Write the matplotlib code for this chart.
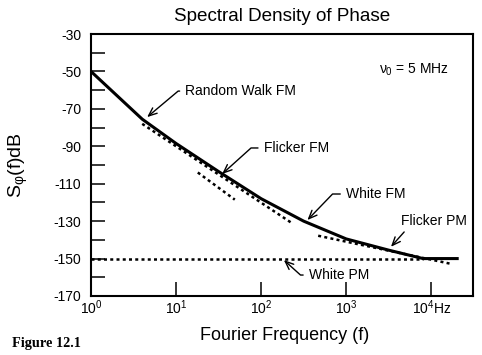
import numpy as np
import matplotlib
matplotlib.use("Agg")
import matplotlib.pyplot as plt

plt.rcParams['font.family'] = ['Liberation Sans', 'DejaVu Sans']
plt.rcParams['mathtext.fontset'] = 'custom'
plt.rcParams['mathtext.rm'] = 'Liberation Sans'
plt.rcParams['mathtext.it'] = 'Liberation Sans'
plt.rcParams['mathtext.bf'] = 'Liberation Sans:bold'
plt.rcParams['axes.unicode_minus'] = False

# total phase noise (solid curve)
solid_freq = [1, 4, 10, 31.6, 100, 316, 1000, 3160, 8000, 21000]
solid_db = [-50, -75.5, -88.5, -103.5, -118, -130, -139.5, -145.5, -150, -150]

# dotted asymptote pieces
flicker_fm_freq = [4, 229]
flicker_fm_db = [-78, -131]
white_fm_freq = [18, 49]
white_fm_db = [-104, -118.5]
flicker_pm_freq = [468, 17800]
flicker_pm_db = [-137.8, -153]
white_pm_freq = [1, 8000]
white_pm_db = [-150, -150]

x_ticks = [1, 10, 100, 1000, 10000]
x_labels = ["10$^0$", "10$^1$", "10$^2$", "10$^3$", "10$^4$Hz"]
y_ticks = [-30, -50, -70, -90, -110, -130, -150, -170]

fig = plt.figure(figsize=(4.82, 3.55), dpi=100)
ax = fig.add_axes([0.1888, 0.1662, 0.7925, 0.738])

ax.plot(solid_freq, solid_db, 'k', lw=2.2, solid_capstyle='butt')
dots = dict(color='k', lw=1.8, linestyle=(0, (1.2, 1.3)))
ax.plot(flicker_fm_freq, flicker_fm_db, **dots)
ax.plot(white_fm_freq, white_fm_db, **dots)
ax.plot(flicker_pm_freq, flicker_pm_db, **dots)
ax.plot(white_pm_freq, white_pm_db, **dots)

ax.set_xscale('log')
ax.set_xlim(1, 10**4.49)
ax.set_ylim(-170, -30)
ax.set_xticks(x_ticks)
ax.set_xticklabels(x_labels)
ax.xaxis.set_minor_locator(matplotlib.ticker.NullLocator())
ax.set_yticks(y_ticks)
ax.set_yticks(np.arange(-160, -30, 20), minor=True)
ax.tick_params(which='both', direction='in', length=10, width=1.1, labelsize=10)
ax.tick_params(axis='y', pad=7)
ax.tick_params(axis='x', pad=2)
for s in ax.spines.values():
    s.set_linewidth(1.5)

ax.set_xlabel("Fourier Frequency (f)", fontsize=13)
ax.xaxis.set_label_coords(0.507, -0.118)
ax.set_ylabel(r"S$_{\varphi}$(f)dB", fontsize=14)
ax.yaxis.set_label_coords(-0.16, 0.5)
ax.text(0.5, 1.065, "Spectral Density of Phase", transform=ax.transAxes,
        ha='center', va='center', fontsize=13.6)
ax.text(0.753, 0.862, r"$\nu_0$ = 5 MHz", transform=ax.transAxes,
        ha='left', va='center', fontsize=10)

def note(txt, xy, xytext, angle_b):
    ax.annotate(txt, xy=xy, xytext=xytext, ha='left', va='center', fontsize=10,
                arrowprops=dict(arrowstyle='->,head_length=0.6,head_width=0.25', lw=1,
                                color='k', relpos=(0, 0.5), shrinkA=2, shrinkB=0,
                                connectionstyle='angle,angleA=0,angleB=%g,rad=0' % angle_b))

note("Random Walk FM", (4.57, -74.4), (12.8, -60.5), 40)
note("Flicker FM", (34.8, -104.8), (106.7, -90.9), 42)
note("White FM", (350, -129.4), (989, -115.5), 46)
note("White PM", (185, -150.8), (362, -158.8), -42)
ax.annotate("Flicker PM", xy=(3357, -143.7), xytext=(4400, -130), ha='left', va='center',
            fontsize=10, arrowprops=dict(arrowstyle='->,head_length=0.6,head_width=0.25',
                                         lw=1, color='k', relpos=(0.1, 0), shrinkA=1, shrinkB=0))

fig.text(12 / 482, 1 - 343 / 355, "Figure 12.1", family='Liberation Serif',
         weight='bold', fontsize=10.3, ha='left', va='center')

fig.savefig("out.png", dpi=100)
